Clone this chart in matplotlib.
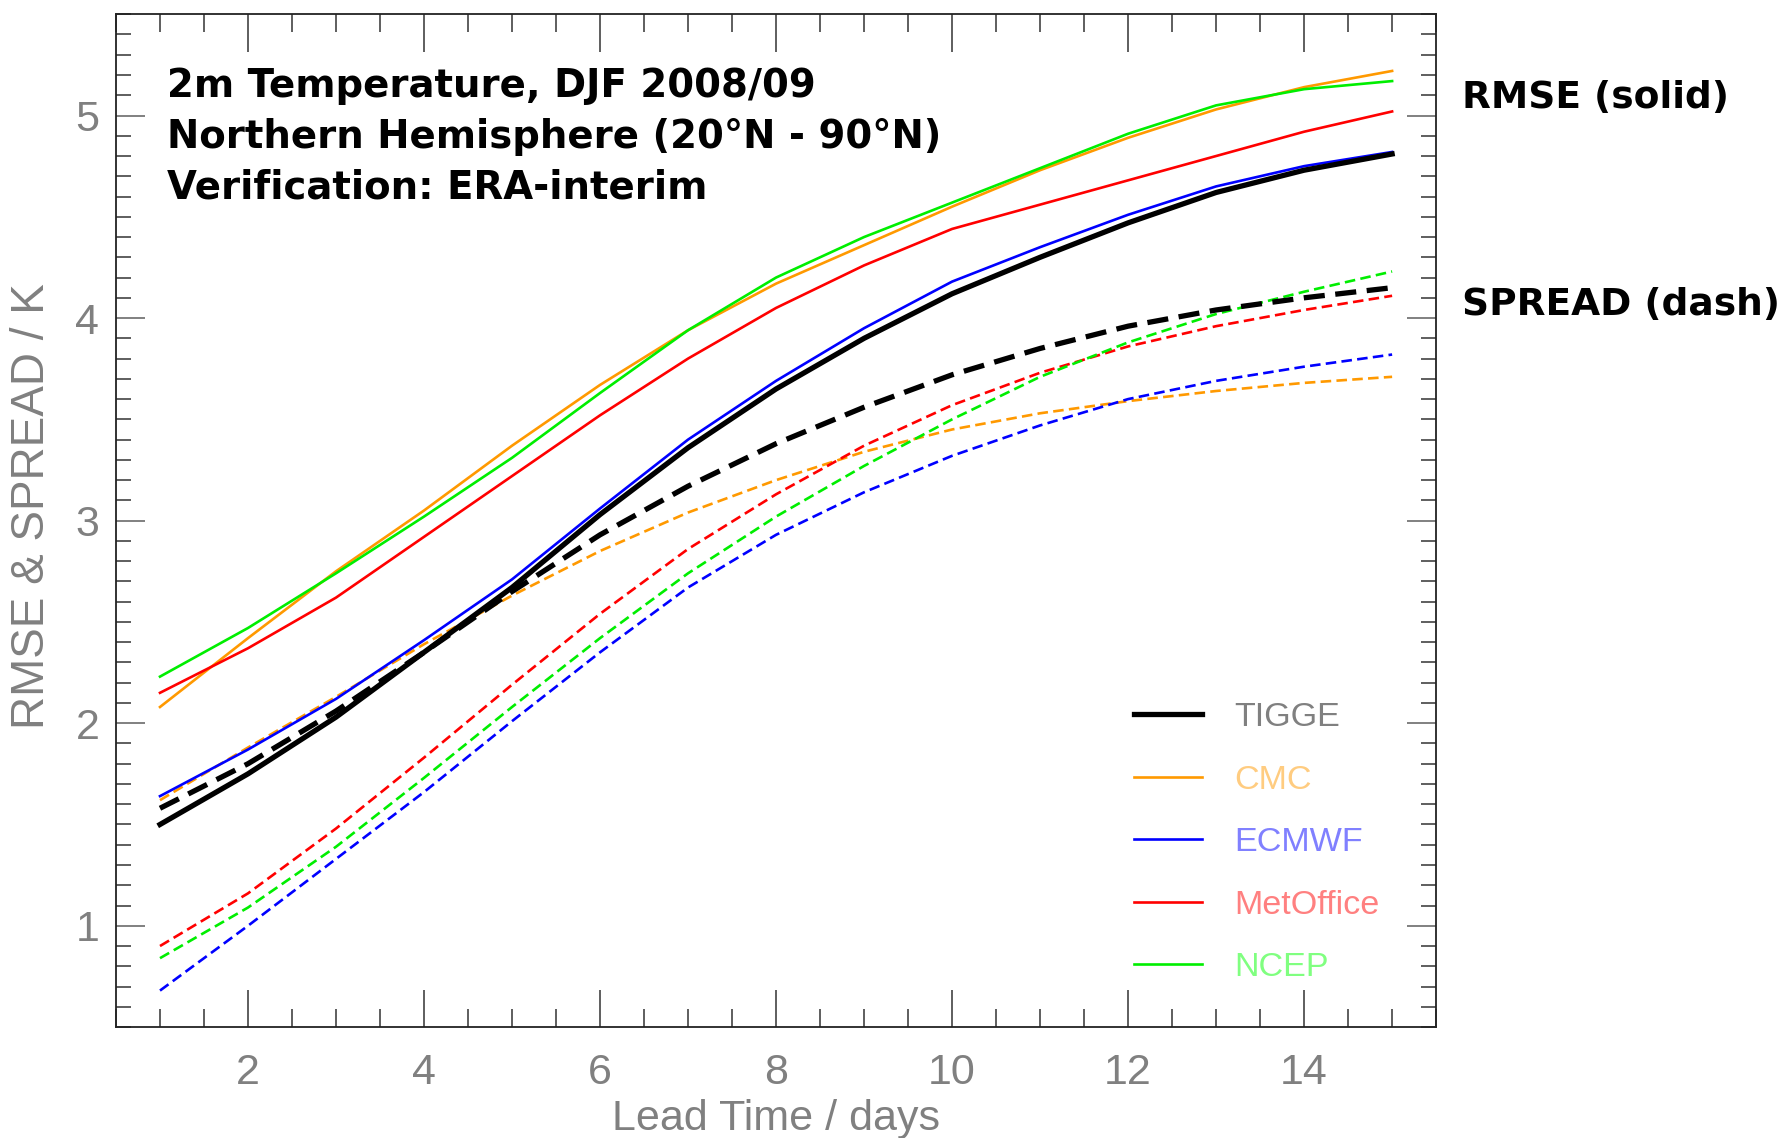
import matplotlib.pyplot as plt
from matplotlib.ticker import MultipleLocator

# lead time (days)
lead_days = [1, 2, 3, 4, 5, 6, 7, 8, 9, 10, 11, 12, 13, 14, 15]

centres = ["TIGGE", "CMC", "ECMWF", "MetOffice", "NCEP"]

rmse_tigge = [1.50, 1.75, 2.03, 2.35, 2.67, 3.03, 3.36, 3.65, 3.90, 4.12, 4.30, 4.47, 4.62, 4.73, 4.81]
rmse_cmc = [2.08, 2.42, 2.75, 3.05, 3.37, 3.67, 3.94, 4.17, 4.36, 4.55, 4.73, 4.89, 5.03, 5.14, 5.22]
rmse_ecmwf = [1.64, 1.87, 2.12, 2.41, 2.71, 3.06, 3.40, 3.69, 3.95, 4.18, 4.35, 4.51, 4.65, 4.75, 4.82]
rmse_metoffice = [2.15, 2.37, 2.62, 2.92, 3.22, 3.52, 3.80, 4.05, 4.26, 4.44, 4.56, 4.68, 4.80, 4.92, 5.02]
rmse_ncep = [2.23, 2.47, 2.74, 3.02, 3.31, 3.63, 3.94, 4.20, 4.40, 4.57, 4.74, 4.91, 5.05, 5.13, 5.17]

spread_tigge = [1.58, 1.80, 2.06, 2.35, 2.65, 2.93, 3.17, 3.38, 3.56, 3.72, 3.85, 3.96, 4.04, 4.10, 4.15]
spread_cmc = [1.62, 1.88, 2.13, 2.39, 2.63, 2.85, 3.04, 3.20, 3.34, 3.45, 3.53, 3.59, 3.64, 3.68, 3.71]
spread_ecmwf = [0.68, 1.00, 1.33, 1.66, 2.01, 2.35, 2.67, 2.93, 3.14, 3.32, 3.47, 3.60, 3.69, 3.76, 3.82]
spread_metoffice = [0.90, 1.16, 1.48, 1.83, 2.19, 2.54, 2.86, 3.13, 3.37, 3.57, 3.73, 3.86, 3.96, 4.04, 4.11]
spread_ncep = [0.84, 1.09, 1.39, 1.73, 2.08, 2.42, 2.74, 3.02, 3.27, 3.50, 3.71, 3.88, 4.02, 4.13, 4.23]

x_ticks = [2, 4, 6, 8, 10, 12, 14]
y_ticks = [1, 2, 3, 4, 5]

line_colors = ["black", "#FF9900", "#0000FF", "#FF0000", "#00EE00"]
label_colors = ["#808080", "#FFCC80", "#8080FF", "#FF8080", "#80FF80"]

rmse_all = [rmse_tigge, rmse_cmc, rmse_ecmwf, rmse_metoffice, rmse_ncep]
spread_all = [spread_tigge, spread_cmc, spread_ecmwf, spread_metoffice, spread_ncep]

plt.rcParams['font.family'] = ['Liberation Sans Narrow', 'Liberation Sans', 'DejaVu Sans']

fig = plt.figure(figsize=(17.9, 11.38), dpi=100)
ax = fig.add_axes([0.0648, 0.0975, 0.7375, 0.890])

# -------------------------------------------------
# spread (dashed) first, then rmse (solid) on top
# -------------------------------------------------

handles = []

for i in range(len(centres)):

    lw = 3.8 if i == 0 else 1.9

    ax.plot(lead_days, spread_all[i], color=line_colors[i], lw=lw,
            linestyle=(0, (4, 2)), zorder=3 - (i > 0))

for i in range(len(centres)):

    lw = 3.8 if i == 0 else 1.9

    h, = ax.plot(lead_days, rmse_all[i], color=line_colors[i], lw=lw,
                 zorder=3 - (i > 0), label=centres[i])
    handles.append(h)

ax.set_xlim(0.5, 15.5)
ax.set_ylim(0.5, 5.5)

ax.set_xticks(x_ticks)
ax.set_yticks(y_ticks)
ax.xaxis.set_minor_locator(MultipleLocator(0.5))
ax.yaxis.set_minor_locator(MultipleLocator(0.1))

ax.tick_params(axis='x', which='major', direction='in', length=27, width=1.1,
               top=True, bottom=True, color='#333333', labelsize=31,
               labelcolor='#808080', pad=19)
ax.tick_params(axis='x', which='minor', direction='in', length=13, width=1.1,
               top=True, bottom=True, color='#333333')
ax.tick_params(axis='y', which='major', direction='in', length=21, width=1.4,
               left=True, right=True, color='#808080', labelsize=31,
               labelcolor='#808080', pad=12)
ax.tick_params(axis='y', which='minor', direction='in', length=11, width=1.1,
               left=True, right=True, color='#333333')

for s in ax.spines.values():
    s.set_linewidth(1.3)
    s.set_color('#222222')

ax.set_xlabel("Lead Time / days", fontsize=31, color='#808080', labelpad=4)
ax.set_ylabel("RMSE & SPREAD / K", fontsize=33, color='#808080')
ax.yaxis.set_label_coords(-0.047, 0.514)

# -------------------------------------------------
# header text
# -------------------------------------------------

header = "2m Temperature, DJF 2008/09\nNorthern Hemisphere (20°N - 90°N)\nVerification: ERA-interim"
ax.text(0.039, 0.948, header, transform=ax.transAxes, fontsize=27.8,
        fontweight='bold', family='DejaVu Sans', va='top', ha='left',
        linespacing=1.43)

fig.text(0.817, 0.914, "RMSE (solid)", fontsize=27, fontweight='bold',
         family='DejaVu Sans', va='center', ha='left')
fig.text(0.817, 0.732, "SPREAD (dash)", fontsize=27, fontweight='bold',
         family='DejaVu Sans', va='center', ha='left')

leg = ax.legend(handles=handles, loc='upper left', bbox_to_anchor=(0.748, 0.351),
                frameon=False, fontsize=24.6, handlelength=1.97, handletextpad=0.95,
                labelspacing=0.92, labelcolor=label_colors)

plt.savefig("out.png", dpi=100)
